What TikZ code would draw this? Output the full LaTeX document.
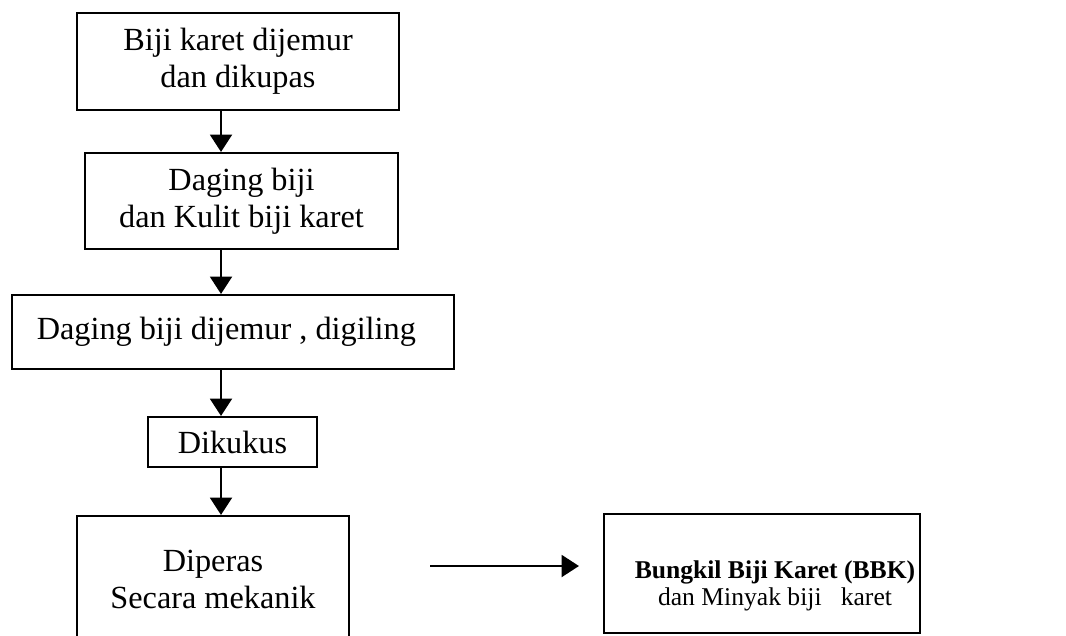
\documentclass[tikz,border=0pt]{standalone}
\usepackage{fontspec}
\setmainfont{Liberation Serif}
\usetikzlibrary{arrows.meta}
\begin{document}
\begin{tikzpicture}[x=0.75pt,y=-0.75pt,
  box/.style={draw, line width=1.6pt, inner sep=0pt, align=center,
    font=\fontsize{24.2}{27.75}\selectfont},
  arr/.style={line width=1.5pt, -{Triangle[width=16.5pt,length=13pt]}}]
\useasboundingbox (0,0) rectangle (1066,635);
\clip (0,0) rectangle (1066,635);
\fill[white] (0,0) rectangle (1066,635);
\node[box, minimum width=241.5pt, minimum height=72.75pt] (b1) at (238,61.5)
  {Biji karet dijemur\\dan dikupas};
\node[box, minimum width=234.75pt, minimum height=72pt] (b2) at (241.5,201)
  {Daging biji\\dan Kulit biji karet};
\node[box, minimum width=331.5pt, minimum height=55.5pt] (b3) at (233,332)
  {Daging biji dijemur , digiling\hspace*{10pt}};
\node[box, minimum width=126.75pt, minimum height=37.5pt] (b4) at (232.5,442)
  {Dikukus};
\node[box, minimum width=204pt, minimum height=94.5pt] (b5) at (213,579)
  {Diperas\\Secara mekanik};
\node[box, minimum width=237pt, minimum height=89.25pt] (b6) at (762,573.5) {};
\node[inner sep=0pt, align=center, font=\fontsize{19.2}{20.5}\selectfont] (b6t) at (775,586)
  {\textbf{Bungkil Biji Karet (BBK)}\\dan Minyak biji\ \ \ karet};
\coordinate (ax) at (221,0);
\draw[arr] (b1.south -| ax) -- (b2.north -| ax);
\draw[arr] (b2.south -| ax) -- (b3.north -| ax);
\draw[arr] (b3.south -| ax) -- (b4.north -| ax);
\draw[arr] (b4.south -| ax) -- (b5.north -| ax);
\coordinate (hy) at (0,566);
\draw[arr, shorten <=60pt, shorten >=18pt] (b5.east |- hy) -- (b6.west |- hy);
\end{tikzpicture}
\end{document}
